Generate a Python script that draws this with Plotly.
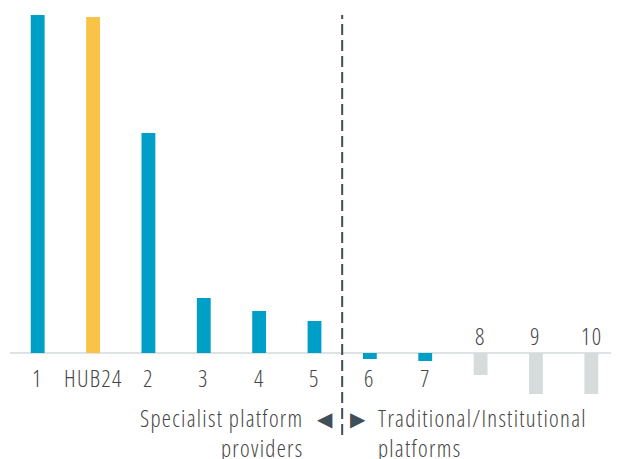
import plotly.graph_objects as go

categories = ["1", "HUB24", "2", "3", "4", "5", "6", "7", "8", "9", "10"]
values = [33.8, 33.6, 22.0, 5.5, 4.2, 3.2, -0.6, -0.8, -2.2, -4.1, -4.1]
groups = ["specialist", "hub24", "specialist", "specialist", "specialist", "specialist",
          "specialist", "specialist", "traditional", "traditional", "traditional"]
label_side = ["below"] * 8 + ["above"] * 3
divider_after = "5"
left_group_lines = ["Specialist platform", "providers"]
right_group_lines = ["Traditional/Institutional", "platforms"]

color_map = {"specialist": "#009fc7", "hub24": "#f8c346", "traditional": "#d6dcdc"}
FONT = "Open Sans, DejaVu Sans, sans-serif"
TEXT_COLOR = "#454545"
DARK = "#3f4e5a"
STYLE = "font-stretch:75%;font-weight:300;letter-spacing:1.3px"
FS = 23


def narrow(lines):
    return "<br>".join(f'<span style="{STYLE}">{ln}</span>' for ln in lines)


fig = go.Figure()
fig.add_trace(go.Bar(
    x=list(range(len(categories))), y=values,
    marker=dict(color=[color_map[g] for g in groups], line=dict(width=0)),
    width=0.25, hoverinfo="skip",
))

for i, (cat, side) in enumerate(zip(categories, label_side)):
    fig.add_annotation(
        x=i, y=0, xref="x", yref="y", text=narrow([cat]), showarrow=False,
        yanchor="top" if side == "below" else "bottom",
        yshift=-7 if side == "below" else -1,
        font=dict(family=FONT, size=FS, color=TEXT_COLOR),
    )

div_x = categories.index(divider_after) + 0.5
fig.add_shape(type="line", xref="x", yref="y", x0=div_x, x1=div_x,
              y0=-8.2, y1=max(values),
              line=dict(color=DARK, width=2, dash="11px,5px"))

fig.add_annotation(x=div_x, y=0, xref="x", yref="y", text=narrow(left_group_lines),
                   showarrow=False, xanchor="right", yanchor="top", align="right",
                   xshift=-37, yshift=-47,
                   font=dict(family=FONT, size=FS, color=TEXT_COLOR))
fig.add_annotation(x=div_x, y=0, xref="x", yref="y", text=narrow(right_group_lines),
                   showarrow=False, xanchor="left", yanchor="top", align="left",
                   xshift=34, yshift=-47,
                   font=dict(family=FONT, size=FS, color=TEXT_COLOR))
fig.add_annotation(x=div_x, y=0, xref="x", yref="y", text="◀",
                   showarrow=False, xanchor="center", yanchor="middle",
                   xshift=-17, yshift=-66,
                   font=dict(family="DejaVu Sans", size=20, color=DARK))
fig.add_annotation(x=div_x, y=0, xref="x", yref="y", text="▶",
                   showarrow=False, xanchor="center", yanchor="middle",
                   xshift=16, yshift=-66,
                   font=dict(family="DejaVu Sans", size=20, color=DARK))

fig.update_layout(
    width=611, height=451,
    margin=dict(l=2, r=0, t=2, b=19),
    plot_bgcolor="white", paper_bgcolor="white",
    showlegend=False, bargap=0.75,
    xaxis=dict(range=[-0.5, len(categories) - 0.5],
               showticklabels=False, showgrid=False, zeroline=False, showline=False),
    yaxis=dict(range=[-8.7, 34.3], showticklabels=False, showgrid=False,
               zeroline=True, zerolinecolor="#dde2e2", zerolinewidth=2, showline=False),
)

fig.write_html("out.html")
